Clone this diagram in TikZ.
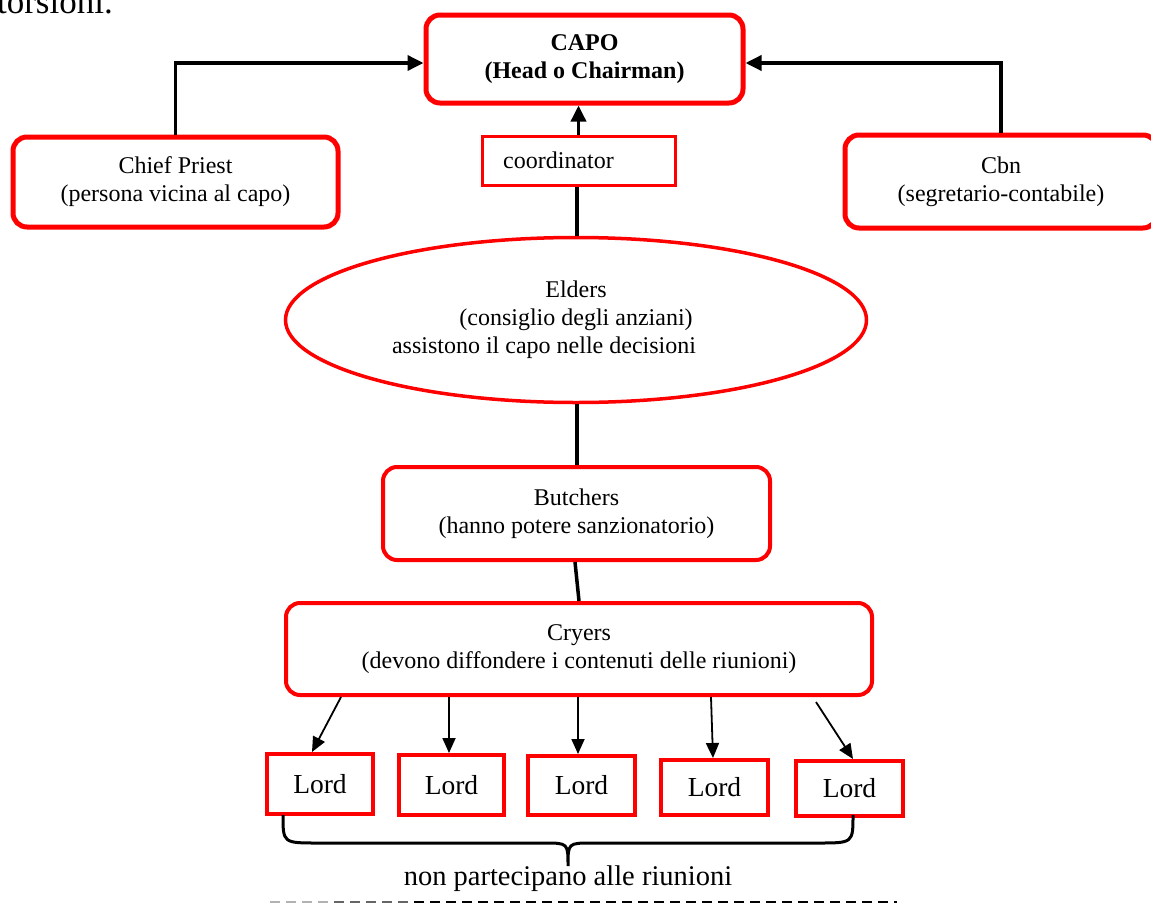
\documentclass[tikz,border=0pt]{standalone}
\usepackage{fontspec}
\setmainfont{Liberation Serif}
\usetikzlibrary{arrows.meta,shapes.geometric}
\begin{document}
\begin{tikzpicture}[x=1pt,y=-1pt,
  txt/.style={font=\fontsize{24}{28}\selectfont},
  bigbox/.style={draw=red, line width=5pt, rounded corners=14pt, inner sep=0pt, align=center, txt},
  midbox/.style={draw=red, line width=4pt, rounded corners=14pt, inner sep=0pt, align=center, txt},
  lordbox/.style={draw=red, line width=4pt, inner sep=0pt, font=\fontsize{27.5}{30}\selectfont},
  conn/.style={line width=3.5pt},
  connarrow/.style={conn, -{Triangle[length=16pt,width=15pt]}},
  lordarrow/.style={line width=1.8pt, -{Triangle[length=15pt,width=13pt]}},
]
\useasboundingbox (0,0) rectangle (1151,905);
\clip (0,0) rectangle (1151,905);

% text running in from the previous paragraph
\node[anchor=base east, inner sep=0pt, font=\fontsize{35}{38}\selectfont] (prev) at (113,13) {torsioni.};

% top level
\node[bigbox, minimum width=317pt, minimum height=88pt] (capo) at (584.5,59)
  {\bfseries CAPO\\\bfseries (Head o Chairman)};
\node[bigbox, minimum width=325pt, minimum height=90pt] (chief) at (175.5,182)
  {Chief Priest\\(persona vicina al capo)};
\node[bigbox, minimum width=312pt, minimum height=93pt] (cbn) at (1001,181.5)
  {Cbn\\(segretario-contabile)};
\node[draw=red, line width=3pt, inner sep=0pt, minimum width=193pt, minimum height=49pt, txt] (coord) at (578.5,160.5)
  {coordinator\hspace*{40pt}};

% council
\node[ellipse, draw=red, line width=3.5pt, inner sep=0pt, minimum width=581pt, minimum height=165pt, align=center, txt] (elders) at (576,320)
  {Elders\\(consiglio degli anziani)\\assistono il capo nelle decisioni\hspace*{64pt}};

% lower ranks
\node[midbox, minimum width=387pt, minimum height=93pt] (butch) at (576.5,513.5)
  {Butchers\\(hanno potere sanzionatorio)};
\node[midbox, minimum width=586pt, minimum height=92pt] (cry) at (579,649)
  {Cryers\\(devono diffondere i contenuti delle riunioni)};

\node[lordbox, minimum width=106pt, minimum height=60pt] (l1) at (320,784) {Lord};
\node[lordbox, minimum width=105pt, minimum height=60pt] (l2) at (451.5,785) {Lord};
\node[lordbox, minimum width=107pt, minimum height=59pt] (l3) at (581.5,785.5) {Lord};
\node[lordbox, minimum width=107pt, minimum height=55pt] (l4) at (714.5,787.5) {Lord};
\node[lordbox, minimum width=107pt, minimum height=55pt] (l5) at (849.5,788.5) {Lord};

% connectors to the head
\draw[connarrow] (chief.north) |- ([yshift=-4pt]capo.west);
\draw[connarrow] (cbn.north) |- ([yshift=-4pt]capo.east);
\draw[connarrow] (coord.north) -- (coord.north |- capo.south);
\draw[conn] ([xshift=1pt]elders.north) -- ([xshift=1pt]elders.north |- coord.south);
\draw[conn] ([xshift=1pt]elders.south) -- ([xshift=1pt]elders.south |- butch.north);
\draw[conn] ([xshift=-1.5pt]butch.south) -- (cry.north);

% cryers to lords
\draw[lordarrow] ([xshift=-238pt]cry.south) -- ([xshift=-8pt]l1.north);
\draw[lordarrow] ([xshift=-130pt]cry.south) -- ([xshift=-2.5pt]l2.north);
\draw[lordarrow] ([xshift=-1pt]cry.south) -- ([xshift=-3.5pt]l3.north);
\draw[lordarrow] ([xshift=132pt]cry.south) -- ([xshift=-1.5pt]l4.north);
\draw[lordarrow] ([xshift=237pt,yshift=-5pt]cry.south) -- ([xshift=3.5pt]l5.north);

% brace under the lords
\coordinate (bl) at (283,815);
\coordinate (bt) at (568,866);
\coordinate (br) at (853,815);
\draw[line width=3pt] (bl) .. controls (283,843) .. (318,843) -- (544,843)
  .. controls (568,843) .. (bt) .. controls (568,843) .. (592,843) -- (818,843)
  .. controls (853,843) .. (br);
\node[anchor=base, inner sep=0pt, font=\fontsize{28.5}{32}\selectfont] (note) at (568,885)
  {non partecipano alle riunioni};

% dashed rule at the foot
\draw[line width=2.5pt, dash pattern=on 10pt off 6pt, black!30] (270,902) -- (334,902);
\draw[line width=2.5pt, dash pattern=on 10pt off 6pt, black!60] (334,902) -- (414,902);
\draw[line width=2.5pt, dash pattern=on 10pt off 6pt] (414,902) -- (897,902);
\end{tikzpicture}
\end{document}
